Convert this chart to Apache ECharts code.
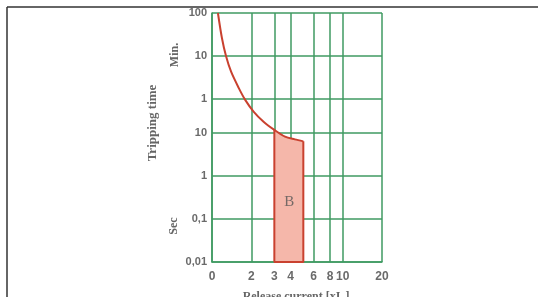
<!DOCTYPE html>
<html>
<head>
<meta charset="utf-8">
<script src="https://cdn.jsdelivr.net/npm/echarts@6/dist/echarts.min.js"></script>
<style>
  html, body { margin: 0; padding: 0; background: #fff; }
  #chart { width: 538px; height: 297px; }
</style>
</head>
<body>
<div id="chart"></div>
<script>
// x: multiples of rated current (log), "0" label sits at 1
const xTicks = [1, 2, 3, 4, 6, 8, 10, 20];
const xTickLabels = ['0', '2', '3', '4', '6', '8', '10', '20'];
// y: tripping time in seconds (log); top three are minutes
const yTicks = [0.01, 0.1, 1, 10, 60, 600, 6000];
const yTickLabels = ['0,01', '0,1', '1', '10', '1', '10', '100'];

// thermal trip curve
const curveCurrent = [1.11, 1.19, 1.28, 1.40, 1.60, 1.80, 2.08, 2.48, 3, 3.62, 4.3, 5];
const curveTime = [6000, 1600, 600, 260, 110, 57, 31, 18, 11.6, 8.1, 7.0, 6.3];

// magnetic trip band B (3..5 x In)
const bandCurrent = [3, 3.62, 4.3, 5];
const bandTime = [11.6, 8.1, 7.0, 6.3];
const bandFloor = 0.01;

const green = '#3f9a62';
const red = '#c9412f';
const labelGrey = '#6a6a6a';

function pickLabel(ticks, labels, v) {
  let best = 0;
  ticks.forEach((t, i) => {
    if (Math.abs(Math.log(t / v)) < Math.abs(Math.log(ticks[best] / v))) best = i;
  });
  return labels[best];
}

const curveData = curveCurrent.map((x, i) => [x, curveTime[i]]);
const bandData = bandCurrent.map((x, i) => [x, bandTime[i]]);
const bandEdges = [
  [bandCurrent[bandCurrent.length - 1], bandTime[bandTime.length - 1]],
  [bandCurrent[bandCurrent.length - 1], bandFloor],
  [bandCurrent[0], bandFloor],
  [bandCurrent[0], bandTime[0]]
];

const chart = echarts.init(document.getElementById('chart'));

chart.setOption({
  animation: false,
  backgroundColor: '#fff',
  grid: { left: 212, right: 156, top: 13, bottom: 35 },
  xAxis: {
    type: 'log',
    min: 1,
    max: 20,
    axisLine: { show: true, lineStyle: { color: green, width: 1.5 } },
    axisTick: { show: false, customValues: xTicks },
    splitLine: { show: true, lineStyle: { color: green, width: 1.5 } },
    axisLabel: {
      customValues: xTicks,
      margin: 9,
      color: labelGrey,
      fontFamily: 'Liberation Sans',
      fontWeight: 'bold',
      fontSize: 12,
      formatter: v => pickLabel(xTicks, xTickLabels, v)
    }
  },
  yAxis: {
    type: 'log',
    min: 0.01,
    max: 6000,
    axisLine: { show: true, lineStyle: { color: green, width: 1.5 } },
    axisTick: { show: false, customValues: yTicks },
    splitLine: { show: true, lineStyle: { color: green, width: 1.5 } },
    axisLabel: {
      customValues: yTicks,
      margin: 5,
      color: labelGrey,
      fontFamily: 'Liberation Sans',
      fontWeight: 'bold',
      fontSize: 11,
      formatter: v => pickLabel(yTicks, yTickLabels, v)
    }
  },
  series: [
    {
      type: 'line',
      data: bandData,
      smooth: 0.3,
      symbol: 'none',
      lineStyle: { width: 0 },
      areaStyle: { color: '#f5b7aa', opacity: 1, origin: 'start' },
      z: 2
    },
    {
      type: 'line',
      data: bandEdges,
      symbol: 'none',
      lineStyle: { color: red, width: 2 },
      z: 3
    },
    {
      type: 'line',
      data: curveData,
      smooth: 0.3,
      symbol: 'none',
      lineStyle: { color: red, width: 2 },
      z: 3
    },
    {
      type: 'scatter',
      data: [[3.9, 0.25]],
      symbolSize: 0,
      label: {
        show: true,
        formatter: 'B',
        position: 'inside',
        color: '#555',
        fontFamily: 'Liberation Serif',
        fontSize: 15
      },
      z: 4
    }
  ],
  graphic: [
    { type: 'line', shape: { x1: 7, y1: 7, x2: 538, y2: 7 }, style: { stroke: '#333', lineWidth: 1.5 } },
    { type: 'line', shape: { x1: 7, y1: 7, x2: 7, y2: 297 }, style: { stroke: '#333', lineWidth: 1.5 } },
    {
      type: 'text', x: 153, y: 123, rotation: Math.PI / 2,
      style: { text: 'Tripping time', fill: '#666', font: 'bold 13px "Liberation Serif"', align: 'center', verticalAlign: 'middle' }
    },
    {
      type: 'text', x: 175, y: 55, rotation: Math.PI / 2,
      style: { text: 'Min.', fill: '#666', font: 'bold 12px "Liberation Serif"', align: 'center', verticalAlign: 'middle' }
    },
    {
      type: 'text', x: 174, y: 226, rotation: Math.PI / 2,
      style: { text: 'Sec', fill: '#666', font: 'bold 12px "Liberation Serif"', align: 'center', verticalAlign: 'middle' }
    },
    {
      type: 'text', x: 296, y: 297, rotation: 0,
      style: { text: 'Release current [xIₙ]', fill: '#666', font: 'bold 12px "Liberation Serif"', align: 'center', verticalAlign: 'middle' }
    }
  ]
});
</script>
</body>
</html>
